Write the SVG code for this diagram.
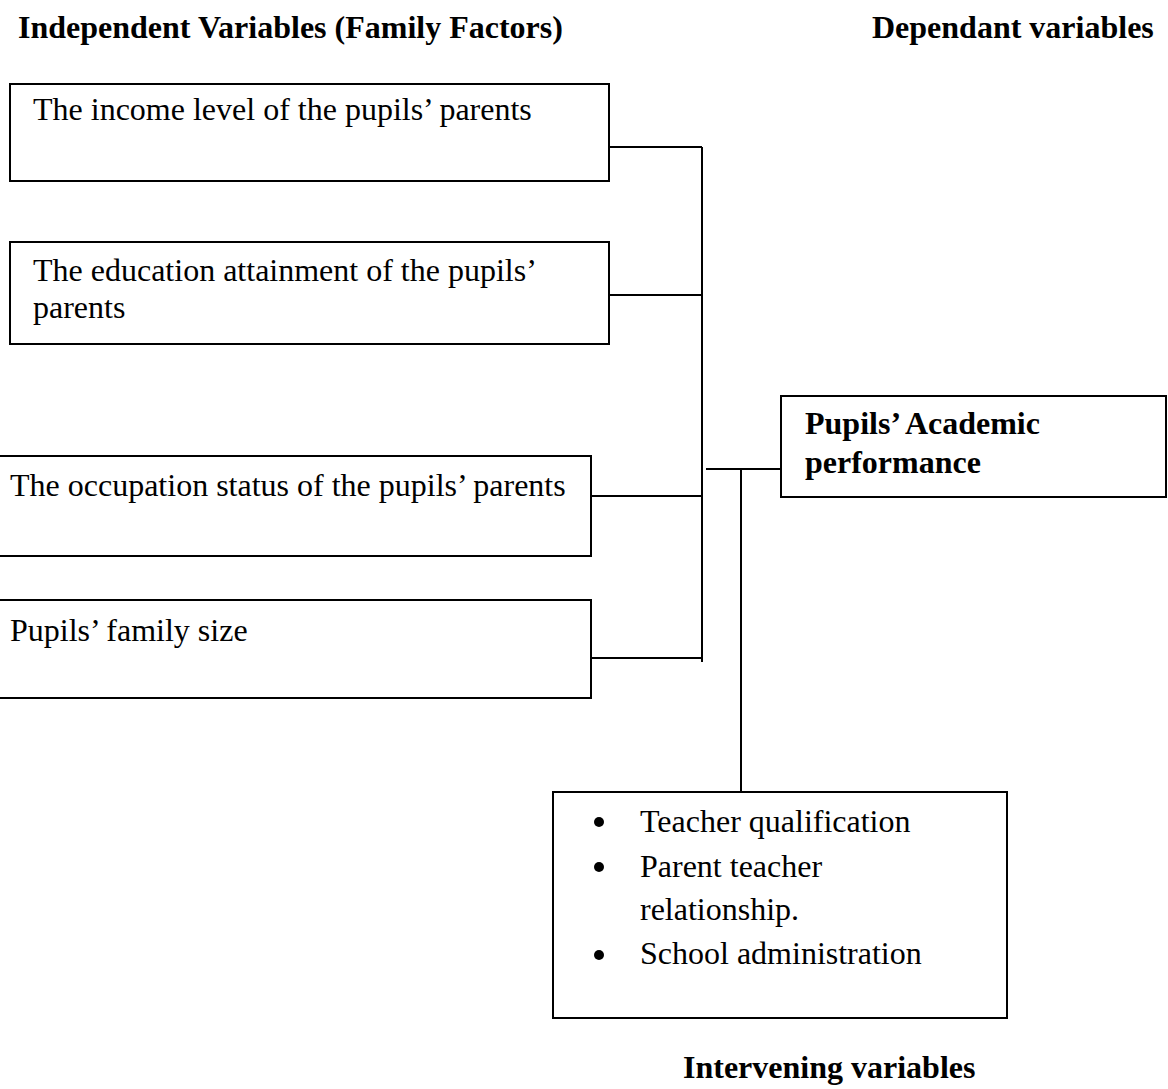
<svg xmlns="http://www.w3.org/2000/svg" width="1168" height="1089" viewBox="0 0 1168 1089">
<style>
.box{fill:#fff;stroke:#000;stroke-width:2}
.ln{fill:none;stroke:#000;stroke-width:2}
text{font-family:"Liberation Serif","Times New Roman",serif;font-size:32px;fill:#000}
.b{font-weight:bold}
</style>
<rect width="1168" height="1089" fill="#fff"/>
<g id="headings">
<text class="b" x="18" y="38">Independent Variables (Family Factors)</text>
<text class="b" x="872" y="38">Dependant variables</text>
<text class="b" x="683" y="1078">Intervening variables</text>
</g>
<g id="connectors">
<path class="ln" d="M609 147H702M609 295H702M591 496H702M591 658H702M702 147V662"/>
<path class="ln" d="M706 469H781M741 469V792"/>
</g>
<g id="income">
<rect class="box" x="10" y="84" width="599" height="97"/>
<text x="33" y="120">The income level of the pupils’ parents</text>
</g>
<g id="education">
<rect class="box" x="10" y="242" width="599" height="102"/>
<text x="33" y="281">The education attainment of the pupils’</text>
<text x="33" y="318">parents</text>
</g>
<g id="occupation">
<rect class="box" x="-2" y="456" width="593" height="100"/>
<text x="10" y="496">The occupation status of the pupils’ parents</text>
</g>
<g id="family">
<rect class="box" x="-2" y="600" width="593" height="98"/>
<text x="10" y="641">Pupils’ family size</text>
</g>
<g id="performance">
<rect class="box" x="781" y="396" width="385" height="101"/>
<text class="b" x="805" y="434">Pupils’ Academic</text>
<text class="b" x="805" y="473">performance</text>
</g>
<g id="intervening">
<rect class="box" x="553" y="792" width="454" height="226"/>
<circle cx="599" cy="822" r="5"/>
<circle cx="599" cy="867" r="5"/>
<circle cx="599" cy="955" r="5"/>
<text x="640" y="832">Teacher qualification</text>
<text x="640" y="877">Parent teacher</text>
<text x="640" y="920">relationship.</text>
<text x="640" y="964">School administration</text>
</g>
</svg>
